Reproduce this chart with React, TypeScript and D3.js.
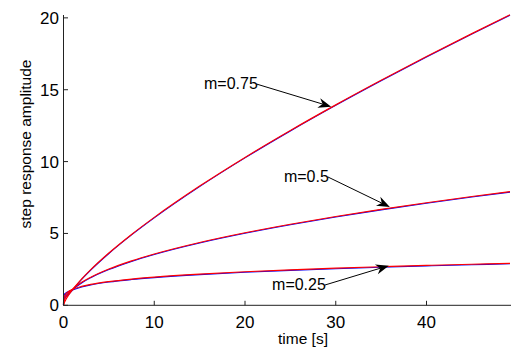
import React from "react";
import * as d3 from "d3";

const time = [0, 0.02, 0.1, 0.25, 0.5, 1, 2, 3, 5, 7.5, 10, 15, 20, 25, 30, 35, 40, 45, 49.2];
const m025 = [0, 0.42, 0.62, 0.78, 0.928, 1.103, 1.312, 1.452, 1.65, 1.826, 1.962, 2.171, 2.333, 2.467, 2.582, 2.684, 2.775, 2.857, 2.922];
const m050 = [0, 0.16, 0.357, 0.564, 0.798, 1.128, 1.596, 1.954, 2.523, 3.09, 3.568, 4.37, 5.046, 5.642, 6.18, 6.676, 7.136, 7.57, 7.915];
const m075 = [0, 0.06, 0.193, 0.385, 0.647, 1.088, 1.83, 2.48, 3.638, 4.931, 6.118, 8.293, 10.29, 12.164, 13.946, 15.656, 17.306, 18.903, 20.213];

const timeApprox = [0, 0.02, 0.1, 0.25, 0.5, 1, 2, 3, 5, 7.5, 10, 15, 20, 25, 30, 35, 40, 45, 49.2];
const m025Approx = [0.05, 0.62, 0.78, 0.88, 0.97, 1.1, 1.305, 1.445, 1.645, 1.82, 1.955, 2.165, 2.326, 2.46, 2.576, 2.679, 2.77, 2.852, 2.917];
const m050Approx = [0.05, 0.42, 0.58, 0.7, 0.86, 1.12, 1.585, 1.945, 2.513, 3.08, 3.558, 4.36, 5.036, 5.632, 6.17, 6.666, 7.126, 7.56, 7.905];
const m075Approx = [0.05, 0.3, 0.45, 0.6, 0.75, 1.09, 1.825, 2.475, 3.633, 4.926, 6.113, 8.288, 10.285, 12.159, 13.941, 15.651, 17.301, 18.898, 20.208];

const xTicks = [0, 10, 20, 30, 40];
const yTicks = [0, 5, 10, 15, 20];

const annotations = [
  { label: "m=0.75", tx: 21.3, ty: 15.39, ax: 29.5, ay: 13.82 },
  { label: "m=0.5", tx: 29.13, ty: 8.93, ax: 35.96, ay: 6.84 },
  { label: "m=0.25", tx: 28.8, ty: 1.41, ax: 35.85, ay: 2.76 },
];

const FONT = "'Liberation Sans', Arial, Helvetica, sans-serif";

export default function App() {
  const W = 511, H = 352;
  const x = d3.scaleLinear().domain([0, 49.2]).range([63.5, 510]);
  const y = d3.scaleLinear().domain([0, 20.2]).range([305.3, 15]);

  const line = (xs: number[], ys: number[]) =>
    d3.line<number>().x((_, i) => x(xs[i])).y((d) => y(d)).curve(d3.curveMonotoneX)(ys) || "";

  const approx = [m025Approx, m050Approx, m075Approx];
  const exact = [m025, m050, m075];

  const arrow = (a: typeof annotations[0], i: number) => {
    const x0 = x(a.tx), y0 = y(a.ty), x1 = x(a.ax), y1 = y(a.ay);
    const ang = Math.atan2(y1 - y0, x1 - x0);
    const L = 13, Wd = 5, notch = 9;
    const ux = Math.cos(ang), uy = Math.sin(ang);
    const px = -uy, py = ux;
    const bx = x1 - ux * L, by = y1 - uy * L;
    const nx = x1 - ux * notch, ny = y1 - uy * notch;
    const pts = [
      [x1, y1],
      [bx + px * Wd, by + py * Wd],
      [nx, ny],
      [bx - px * Wd, by - py * Wd],
    ];
    return (
      <g key={i}>
        <line x1={x0} y1={y0} x2={nx} y2={ny} stroke="#000" strokeWidth={1} />
        <polygon points={pts.map((p) => p.join(",")).join(" ")} fill="#000" />
        <text x={x0 + 1} y={y0 + 5} textAnchor="end" fontSize={16} fontFamily={FONT} fill="#000">
          {a.label}
        </text>
      </g>
    );
  };

  return (
    <svg width={W} height={H} style={{ position: "absolute", left: 0, top: 0, background: "#fff" }}>
      <rect width={W} height={H} fill="#fff" />
      {approx.map((s, i) => (
        <path key={"b" + i} d={line(timeApprox, s)} fill="none" stroke="#0000ff" strokeWidth={1.1} transform="translate(0,0.4)" />
      ))}
      {exact.map((s, i) => (
        <path key={"r" + i} d={line(time, s)} fill="none" stroke="#ff0000" strokeWidth={1.2} />
      ))}
      <line x1={x(0)} y1={15} x2={x(0)} y2={y(0)} stroke="#222" strokeWidth={1} />
      <line x1={x(0)} y1={y(0)} x2={511} y2={y(0)} stroke="#222" strokeWidth={1} />
      {xTicks.map((t) => (
        <g key={"x" + t}>
          <line x1={x(t)} x2={x(t)} y1={y(0)} y2={y(0) - 4.5} stroke="#222" />
          <text x={x(t)} y={328} textAnchor="middle" fontSize={17} fontFamily={FONT} fill="#000">{t}</text>
        </g>
      ))}
      {yTicks.map((t) => (
        <g key={"y" + t}>
          <line x1={x(0)} x2={x(0) + 4.5} y1={y(t)} y2={y(t)} stroke="#222" />
          <text x={59} y={y(t) + 6} textAnchor="end" fontSize={17} fontFamily={FONT} fill="#000">{t}</text>
        </g>
      ))}
      <text x={303} y={344} textAnchor="middle" fontSize={15.5} fontFamily={FONT} fill="#000">time [s]</text>
      <text transform="translate(31,144) rotate(-90)" textAnchor="middle" fontSize={15.5} fontFamily={FONT} fill="#000">
        step response amplitude
      </text>
      {annotations.map(arrow)}
    </svg>
  );
}
